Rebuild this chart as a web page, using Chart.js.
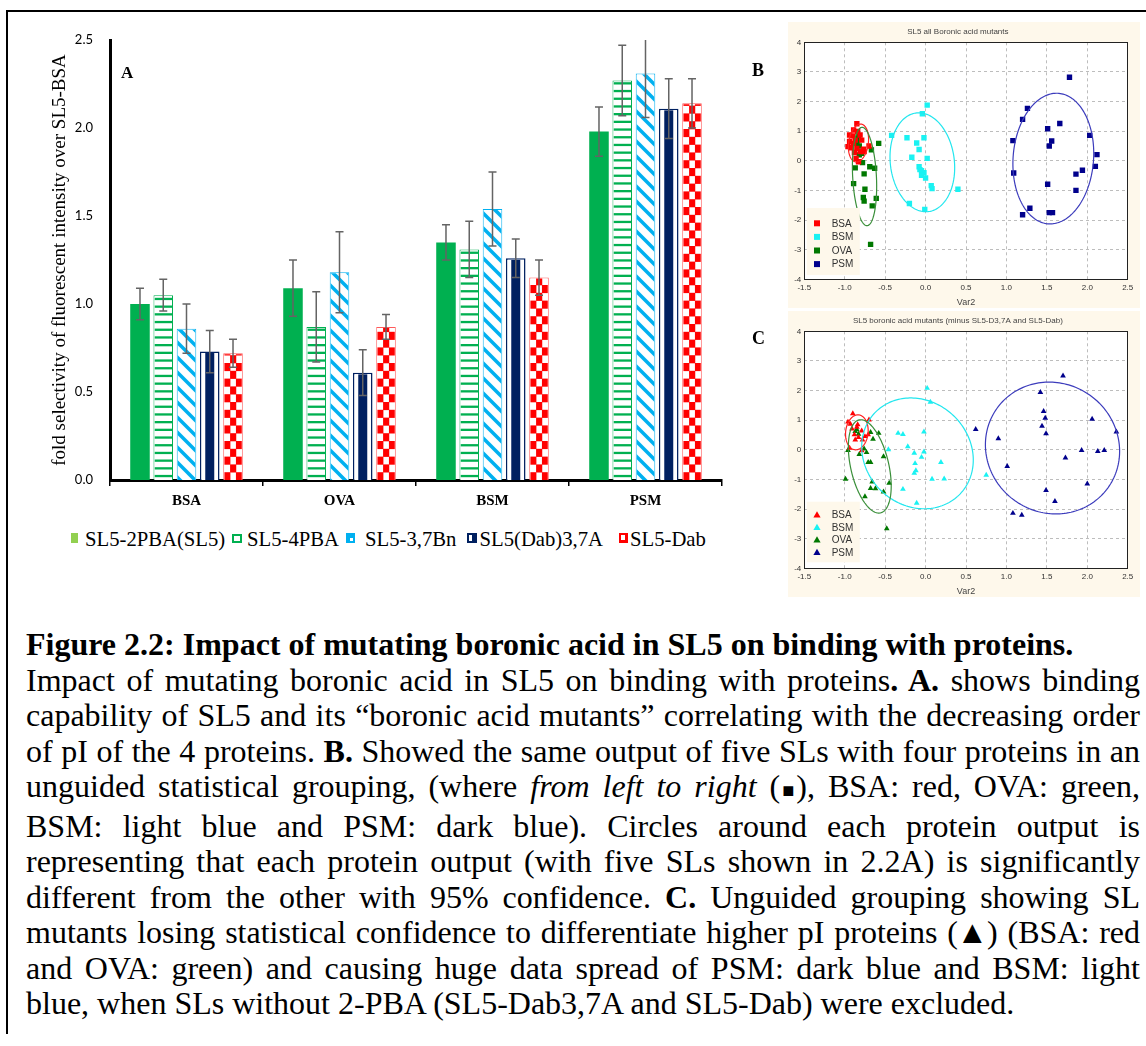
<!DOCTYPE html>
<html><head><meta charset="utf-8">
<script src="https://cdn.jsdelivr.net/npm/chart.js@4.4.1/dist/chart.umd.min.js"></script>
<style>
html,body{margin:0;padding:0;background:#fff;width:1146px;height:1046px;overflow:hidden;}
.abs{position:absolute;}
#frame{left:6px;top:10px;width:1300px;height:1022px;border-left:2px solid #000;border-top:2px solid #000;}
.lbl{font-family:"Liberation Serif",serif;font-weight:bold;line-height:1;color:#000;}
.lg{font-family:"Liberation Serif",serif;font-size:20.7px;line-height:1;color:#000;white-space:nowrap;top:528.6px;}
.mk{box-sizing:border-box;}
#cap{left:26px;top:627px;width:1114px;font-family:"Liberation Serif",serif;font-size:32px;line-height:35.5px;color:#000;}
#cap div{white-space:nowrap;text-align:justify;text-align-last:justify;}
#cap div.nl{text-align:left;text-align-last:left;}
.gl{margin:0 -3px;}
</style></head>
<body>
<div id="frame" class="abs"></div>
<canvas id="cA" class="abs" style="left:0;top:0" width="766" height="520"></canvas>
<canvas id="cB" class="abs" style="left:788px;top:22px" width="352" height="286"></canvas>
<canvas id="cC" class="abs" style="left:788px;top:311px" width="352" height="286"></canvas>
<div class="abs lbl" style="left:121px;top:63.8px;font-size:17px">A</div>
<div class="abs lbl" style="left:752px;top:61px;font-size:18px">B</div>
<div class="abs lbl" style="left:752px;top:329px;font-size:18px">C</div>

<div class="abs mk" style="left:70.7px;top:532.7px;width:7.6px;height:10.6px;background:#92D050"></div>
<div class="abs lg" style="left:85px">SL5-2PBA(SL5)</div>
<div class="abs mk" style="left:231.7px;top:533.5px;width:10px;height:9px;border:2.5px solid #00B050;background:#fff"></div>
<div class="abs lg" style="left:247px">SL5-4PBA</div>
<div class="abs mk" style="left:345.5px;top:533px;width:9.5px;height:10px;background:#00B0F0"><div class="abs" style="left:4px;top:4.5px;width:3.5px;height:3.5px;background:#fff"></div></div>
<div class="abs lg" style="left:365px">SL5-3,7Bn</div>
<div class="abs mk" style="left:467px;top:533px;width:9.5px;height:10px;border:2px solid #002060;background:#fff"><div class="abs" style="left:3px;top:0;width:2.5px;height:6px;background:#002060"></div></div>
<div class="abs lg" style="left:479.5px">SL5(Dab)3,7A</div>
<div class="abs mk" style="left:619px;top:533px;width:9px;height:10px;background:#FF0000"><div class="abs" style="left:1.5px;top:1.5px;width:4px;height:5px;background:#fff"></div></div>
<div class="abs lg" style="left:630px">SL5-Dab</div>

<div id="cap" class="abs">
<div class="nl"><b>Figure 2.2: Impact of mutating boronic acid in SL5 on binding with proteins.</b></div>
<div>Impact of mutating boronic acid in SL5 on binding with proteins<b>. A.</b> shows binding</div>
<div>capability of SL5 and its “boronic acid mutants” correlating with the decreasing order</div>
<div>of pI of the 4 proteins. <b>B.</b> Showed the same output of five SLs with four proteins in an</div>
<div>unguided statistical grouping, (where <i>from left to right</i> (<span class="gl" style="font-size:20px">■</span>), BSA: red, OVA: green,</div>
<div>BSM: light blue and PSM: dark blue). Circles around each protein output is</div>
<div>representing that each protein output (with five SLs shown in 2.2A) is significantly</div>
<div>different from the other with 95% confidence. <b>C.</b> Unguided grouping showing SL</div>
<div>mutants losing statistical confidence to differentiate higher pI proteins (<span class="gl">▲</span>) (BSA: red</div>
<div>and OVA: green) and causing huge data spread of PSM: dark blue and BSM: light</div>
<div class="nl">blue, when SLs without 2-PBA (SL5-Dab3,7A and SL5-Dab) were excluded.</div>
</div>

<script>
// ---------- Panel A data ----------
const proteins = ['BSA', 'OVA', 'BSM', 'PSM'];
const seriesNames = ['SL5-2PBA(SL5)', 'SL5-4PBA', 'SL5-3,7Bn', 'SL5(Dab)3,7A', 'SL5-Dab'];
const sl5_2pba   = [1.00, 1.09, 1.35, 1.98];
const sl5_4pba   = [1.05, 0.87, 1.31, 2.27];
const sl5_37bn   = [0.86, 1.18, 1.54, 2.31];
const sl5_dab37a = [0.73, 0.61, 1.26, 2.11];
const sl5_dab    = [0.72, 0.87, 1.15, 2.14];
const err_2pba   = [0.09, 0.16, 0.10, 0.14];
const err_4pba   = [0.09, 0.20, 0.16, 0.20];
const err_37bn   = [0.14, 0.23, 0.21, 0.25];
const err_dab37a = [0.12, 0.13, 0.11, 0.17];
const err_dab    = [0.08, 0.07, 0.10, 0.14];
const yTicksA = [0, 0.5, 1.0, 1.5, 2.0, 2.5];

// ---------- Panel B data (Var1 vs Var2 scores) ----------
const groupNames = ['BSA', 'BSM', 'OVA', 'PSM'];
const B_BSA = [[-0.85,1.25],[-0.89,1.04],[-0.94,0.87],[-0.81,0.87],[-0.94,0.65],[-0.87,0.70],[-0.92,0.44],[-0.85,0.42],[-0.77,0.39],[-0.70,0.50],[-0.88,0.28],[-0.81,0.31],[-0.86,0.08],[-0.83,-0.03],[-0.96,0.48],[-0.79,0.70],[-0.90,0.84],[-0.84,0.99],[-0.76,0.31],[-0.89,0.59]];
const B_BSM = [[0.02,1.88],[-0.04,1.59],[-0.42,0.86],[-0.23,0.78],[-0.02,0.78],[-0.11,0.60],[-0.08,0.38],[-0.17,0.12],[0.02,0.08],[-0.08,-0.20],[-0.05,-0.33],[-0.02,-0.40],[-0.05,-0.49],[0.00,-0.58],[0.07,-0.84],[0.08,-0.94],[0.40,-0.96],[-0.20,-1.44],[-0.01,-1.64],[-0.07,-0.30]];
const B_OVA = [[-0.58,0.59],[-0.83,0.82],[-0.82,0.50],[-0.82,0.20],[-0.67,0.37],[-0.78,-0.06],[-0.87,-0.24],[-0.69,-0.20],[-0.63,-0.25],[-0.76,-0.44],[-0.89,-0.77],[-0.75,-0.96],[-0.77,-1.24],[-0.76,-1.36],[-0.61,-1.27],[-0.66,-1.52],[-0.68,-2.82],[-0.85,0.59],[-0.79,0.25],[-0.84,0.70]];
const B_PSM = [[1.78,2.82],[1.26,1.77],[1.20,1.40],[1.08,0.68],[1.51,1.08],[1.66,1.26],[1.56,0.67],[1.53,0.50],[2.03,0.86],[2.12,0.21],[2.10,-0.19],[1.94,-0.32],[1.86,-0.45],[1.86,-1.00],[1.51,-0.79],[1.09,-0.41],[1.29,-1.60],[1.20,-1.82],[1.53,-1.75],[1.57,-1.75]];
// confidence ellipses: [centerX, centerY, halfWidthX, halfHeightY, correlation]
const B_ell_BSA = [-0.83, 0.60, 0.125, 0.64, 0.2];
const B_ell_BSM = [-0.04, -0.05, 0.40, 1.67, -0.11];
const B_ell_OVA = [-0.755, -0.53, 0.15, 1.66, -0.2];
const B_ell_PSM = [1.58, 0.075, 0.50, 2.205, 0.08];

// ---------- Panel C data ----------
const C_BSA = [[-0.90,1.22],[-0.96,0.94],[-0.93,0.87],[-0.85,0.77],[-0.79,0.64],[-0.70,1.01],[-0.88,0.51],[-0.83,0.42],[-0.78,0.34],[-0.87,0.34],[-0.71,0.51],[-0.94,0.06],[-0.79,-0.03],[-0.84,0.85],[-0.91,0.71],[-0.75,0.45]];
const C_BSM = [[0.02,2.08],[0.06,1.61],[-0.34,0.56],[-0.28,0.52],[-0.02,0.61],[-0.22,0.11],[-0.46,0.01],[-0.14,-0.11],[-0.02,-0.07],[-0.05,-0.25],[-0.13,-0.46],[-0.12,-0.70],[-0.14,-0.79],[0.19,-0.42],[0.08,-0.99],[0.23,-0.98],[-0.28,-1.33],[-0.11,-1.80],[0.75,-0.85]];
const C_OVA = [[-0.99,-0.99],[-0.96,-0.02],[-0.87,0.62],[-0.83,0.53],[-0.85,0.68],[-0.68,0.59],[-0.58,0.56],[-0.65,0.36],[-0.76,0.03],[-0.82,-0.15],[-0.73,-0.09],[-0.71,-0.42],[-0.68,-0.42],[-0.52,-0.23],[-0.66,-1.08],[-0.45,-1.12],[-0.68,-1.30],[-0.62,-1.31],[-0.52,-1.42],[-0.75,-1.58],[-0.48,-2.66]];
const C_PSM = [[1.70,2.50],[1.42,1.94],[1.46,1.30],[1.48,1.07],[2.06,1.04],[1.44,0.80],[1.49,0.55],[2.36,0.61],[0.62,0.69],[0.90,0.38],[1.93,-0.02],[2.13,-0.05],[2.21,-0.02],[1.73,-0.27],[1.01,-0.56],[2.00,-1.15],[1.49,-1.37],[1.60,-1.74],[1.08,-2.14],[1.19,-2.20]];
const C_ell_BSA = [-0.85, 0.59, 0.14, 0.59, 0.1];
const C_ell_BSM = [-0.10, -0.12, 0.69, 1.87, -0.12];
const C_ell_OVA = [-0.69, -0.56, 0.265, 1.575, -0.42];
const C_ell_PSM = [1.57, 0.06, 0.83, 2.225, -0.05];

const xTicksScatter = [-1.5, -1.0, -0.5, 0.0, 0.5, 1.0, 1.5, 2.0, 2.5];
const yTicksScatter = [-4, -3, -2, -1, 0, 1, 2, 3, 4];

// ---------- styling ----------
const GREEN = '#00B050', CYAN = '#00B0F0', NAVY = '#002060', RED = '#FF0000';
const CREAM = '#FEF8EB';
Chart.defaults.font.family = '"Liberation Sans", Arial, sans-serif';

// ---------- Panel A ----------
const patternPlugin = {
  id: 'patterns',
  afterDatasetDraw(chart, args) {
    const di = args.index;
    if (di === 0) return;
    const ctx = chart.ctx;
    const bw = [0, 1, 1, 1.5, 1][di];
    args.meta.data.forEach(el => {
      const p = el.getProps(['x', 'y', 'base', 'width'], true);
      const l = p.x - p.width / 2 + bw, r = p.x + p.width / 2 - bw;
      const t = Math.min(p.y, p.base) + bw, b = Math.max(p.y, p.base);
      const w = r - l, h = b - t;
      if (w <= 0 || h <= 0) return;
      ctx.save();
      ctx.beginPath(); ctx.rect(l, t, w, h); ctx.clip();
      ctx.fillStyle = '#fff'; ctx.fillRect(l, t, w, h);
      if (di === 1) {
        ctx.fillStyle = GREEN;
        for (let yy = b - 4; yy > t - 3; yy -= 7.7) ctx.fillRect(l, yy - 1.1, w, 2.3);
      } else if (di === 2) {
        ctx.strokeStyle = CYAN; ctx.lineWidth = 3.6;
        const s = 15;
        for (let c = Math.floor((t - r - 30) / s) * s; c < b - l + 30; c += s) {
          ctx.beginPath(); ctx.moveTo(l - 10, l - 10 + c); ctx.lineTo(r + 10, r + 10 + c); ctx.stroke();
        }
      } else if (di === 3) {
        ctx.fillStyle = NAVY; const cw = p.width * 0.46;
        ctx.fillRect(p.x - cw / 2, t, cw, h);
      } else if (di === 4) {
        ctx.fillStyle = RED; const cw = w / 3, ch = 7.8;
        for (let row = 0; b - row * ch > t; row++)
          for (let col = 0; col < 3; col++)
            if ((row + col) % 2 === 0) ctx.fillRect(l + col * cw, b - (row + 1) * ch, cw + 0.3, ch + 0.3);
      }
      ctx.restore();
    });
  }
};
const errorBarPlugin = {
  id: 'errorBars',
  afterDatasetsDraw(chart) {
    const ctx = chart.ctx, ys = chart.scales.y, ca = chart.chartArea;
    ctx.save();
    ctx.beginPath(); ctx.rect(ca.left, ca.top, ca.right - ca.left, ca.bottom - ca.top + 2); ctx.clip();
    ctx.strokeStyle = '#646464'; ctx.lineWidth = 1.5;
    chart.data.datasets.forEach((ds, di) => {
      const meta = chart.getDatasetMeta(di);
      meta.data.forEach((el, i) => {
        const v = ds.data[i], e = ds.errs[i];
        const x = el.x, y1 = ys.getPixelForValue(v + e), y2 = ys.getPixelForValue(v - e);
        ctx.beginPath();
        ctx.moveTo(x, y1); ctx.lineTo(x, y2);
        ctx.moveTo(x - 4, y1); ctx.lineTo(x + 4, y1);
        ctx.moveTo(x - 4, y2); ctx.lineTo(x + 4, y2);
        ctx.stroke();
      });
    });
    ctx.restore();
  }
};
const valsA = [sl5_2pba, sl5_4pba, sl5_37bn, sl5_dab37a, sl5_dab];
const errsA = [err_2pba, err_4pba, err_37bn, err_dab37a, err_dab];
const bgA = [GREEN, '#fff', '#fff', '#fff', '#fff'];
const bcA = [GREEN, GREEN, CYAN, NAVY, '#FF5A5A'];
const bwA = [0, 1, 1, 1.5, 1];
new Chart(document.getElementById('cA'), {
  type: 'bar',
  data: {
    labels: proteins,
    datasets: seriesNames.map((n, i) => ({
      label: n, data: valsA[i], errs: errsA[i],
      backgroundColor: bgA[i], borderColor: bcA[i], borderWidth: bwA[i], borderSkipped: 'bottom'
    }))
  },
  options: {
    responsive: false, animation: false, devicePixelRatio: 1,
    layout: { padding: { left: 45, right: 44, top: 40, bottom: 0 } },
    datasets: { bar: { categoryPercentage: 0.76, barPercentage: 0.84 } },
    plugins: { legend: { display: false }, tooltip: { enabled: false } },
    scales: {
      x: {
        grid: { display: true, drawOnChartArea: false, drawTicks: true, tickLength: 6, color: '#000', lineWidth: 1.5, offset: true },
        border: { display: true, color: '#000', width: 3 },
        ticks: { font: { family: '"Liberation Serif", serif', size: 15, weight: 'bold' }, color: '#000', padding: 6 },
        afterFit(s) { s.height = 40; }
      },
      y: {
        min: 0, max: 2.5,
        afterBuildTicks(s) { s.ticks = yTicksA.map(v => ({ value: v })); },
        ticks: { callback: v => Number(v).toFixed(1), font: { family: 'Lato, sans-serif', size: 13 }, color: '#000', padding: 17 },
        grid: { display: false, drawTicks: false },
        border: { display: true, color: '#000', width: 3 },
        title: { display: true, text: 'fold selectivity of fluorescent intensity over SL5-BSA',
                 font: { family: '"Liberation Serif", serif', size: 19 }, color: '#000', padding: { top: 4, bottom: 0 } },
        afterFit(s) { s.width = 65; }
      }
    }
  },
  plugins: [patternPlugin, errorBarPlugin]
});

// ---------- Panels B & C ----------
function makePanelPlugin(ellipses, ellColors, legend) {
  return {
    id: 'panel',
    beforeDraw(chart) {
      const { ctx, chartArea: ca, width, height } = chart;
      ctx.save();
      ctx.fillStyle = CREAM; ctx.fillRect(0, 0, width, height);
      ctx.fillStyle = '#fff'; ctx.fillRect(ca.left, ca.top, ca.right - ca.left, ca.bottom - ca.top);
      ctx.restore();
    },
    afterDatasetsDraw(chart) {
      const { ctx, chartArea: ca } = chart;
      const xs = chart.scales.x, ys = chart.scales.y;
      ellipses.forEach((e, i) => {
        const [cx, cy, sx, sy, rho] = e;
        const d = Math.acos(rho);
        ctx.save();
        ctx.strokeStyle = ellColors[i]; ctx.lineWidth = 1.2;
        ctx.beginPath();
        for (let k = 0; k <= 180; k++) {
          const t = k / 180 * 2 * Math.PI;
          const px = xs.getPixelForValue(cx + sx * Math.cos(t));
          const py = ys.getPixelForValue(cy + sy * Math.cos(t - d));
          if (k) ctx.lineTo(px, py); else ctx.moveTo(px, py);
        }
        ctx.closePath(); ctx.stroke(); ctx.restore();
      });
      // plot frame
      ctx.save();
      ctx.strokeStyle = '#222'; ctx.lineWidth = 1;
      ctx.strokeRect(Math.round(ca.left) + 0.5, Math.round(ca.top) + 0.5, Math.round(ca.right - ca.left), Math.round(ca.bottom - ca.top));
      // legend box
      const bx = ca.left + 2.5, by = ca.bottom - legend.h - legend.bottom;
      ctx.fillStyle = CREAM; ctx.fillRect(bx, by, 53, legend.h);
      ctx.font = '10px "Liberation Sans", Arial, sans-serif';
      ctx.textBaseline = 'middle'; ctx.textAlign = 'left';
      chart.data.datasets.forEach((ds, i) => {
        const yy = by + legend.first + i * legend.step;
        const mx = ca.left + 12.7;
        ctx.fillStyle = ds.backgroundColor;
        if (legend.style === 'rect') ctx.fillRect(mx - 3, yy - 3, 6, 6);
        else { ctx.beginPath(); ctx.moveTo(mx, yy - 3.8); ctx.lineTo(mx + 3.6, yy + 2.6); ctx.lineTo(mx - 3.6, yy + 2.6); ctx.closePath(); ctx.fill(); }
        ctx.fillStyle = '#333';
        ctx.fillText(ds.label, ca.left + 27.4, yy + 0.5);
      });
      ctx.restore();
    }
  };
}
const ptColors = ['#FF0000', '#1AF2F2', '#007800', '#00008C'];
const ellColors = ['#FF2020', '#22E6EE', '#3A8F3A', '#3C3CBC'];
function scatterChart(id, title, groups, style, radius, ellipses, legend) {
  return new Chart(document.getElementById(id), {
    type: 'scatter',
    data: {
      datasets: groupNames.map((n, i) => ({
        label: n, data: groups[i].map(p => ({ x: p[0], y: p[1] })),
        backgroundColor: ptColors[i], borderColor: ptColors[i], borderWidth: 0,
        pointStyle: style, pointRadius: radius
      }))
    },
    options: {
      responsive: false, animation: false, devicePixelRatio: 1,
      layout: { padding: { left: 0, right: 12.3, top: 0, bottom: 0 } },
      plugins: {
        legend: { display: false }, tooltip: { enabled: false },
        title: { display: true, text: title, font: { size: 8, weight: 'normal' }, color: '#444', padding: { top: 5, bottom: 5.7 } }
      },
      scales: {
        x: {
          type: 'linear', min: -1.5, max: 2.5,
          afterBuildTicks(s) { s.ticks = xTicksScatter.map(v => ({ value: v })); },
          ticks: { callback: v => Number(v).toFixed(1), font: { size: 8 }, color: '#333', padding: 4 },
          grid: { color: '#BDBDBD', lineWidth: 1, drawTicks: false },
          border: { display: false, dash: [3, 3] },
          title: { display: true, text: 'Var2', font: { size: 9 }, color: '#444', padding: { top: 0, bottom: 0 } },
          afterFit(s) { s.height = 28.7; }
        },
        y: {
          type: 'linear', min: -4, max: 4,
          afterBuildTicks(s) { s.ticks = yTicksScatter.map(v => ({ value: v })); },
          ticks: { font: { size: 8 }, color: '#333', padding: 3 },
          grid: { color: '#BDBDBD', lineWidth: 1, drawTicks: false },
          border: { display: false, dash: [3, 3] },
          afterFit(s) { s.width = 16.3; }
        }
      }
    },
    plugins: [makePanelPlugin(ellipses, ellColors, legend)]
  });
}
scatterChart('cB', 'SL5 all Boronic acid mutants', [B_BSA, B_BSM, B_OVA, B_PSM], 'rect', 3.8,
  [B_ell_BSA, B_ell_BSM, B_ell_OVA, B_ell_PSM], { h: 67, bottom: 4.3, first: 15.3, step: 13.6, style: 'rect' });
scatterChart('cC', 'SL5 boronic acid mutants (minus SL5-D3,7A and SL5-Dab)', [C_BSA, C_BSM, C_OVA, C_PSM], 'triangle', 3.3,
  [C_ell_BSA, C_ell_BSM, C_ell_OVA, C_ell_PSM], { h: 60.6, bottom: 6, first: 13.3, step: 12.5, style: 'tri' });
</script>
</body></html>
